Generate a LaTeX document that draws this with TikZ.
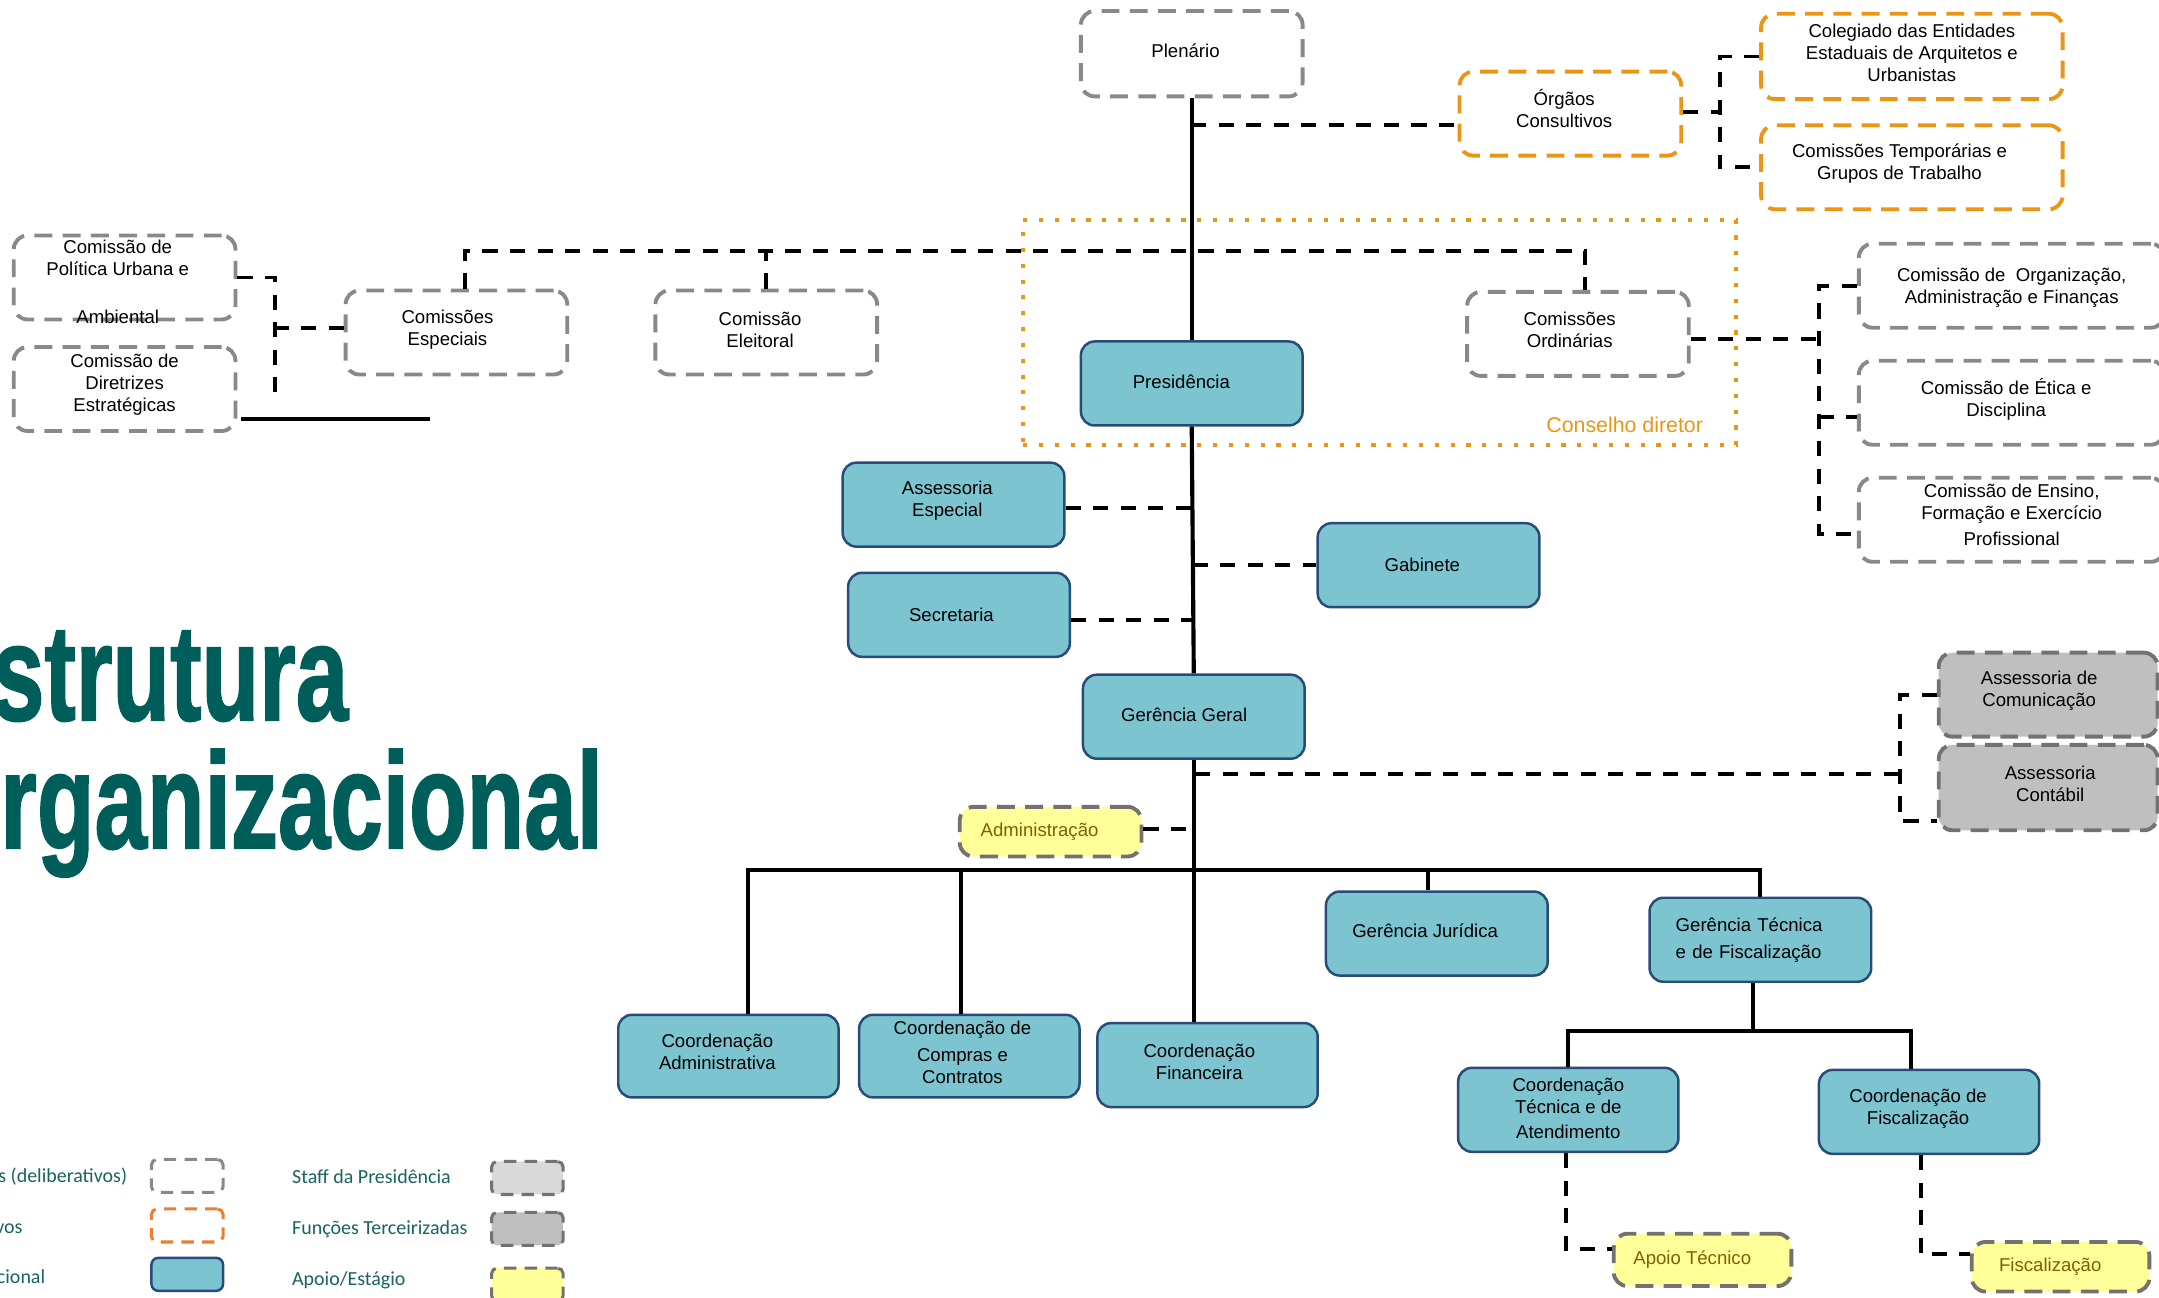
\documentclass[tikz,border=0pt]{standalone}
\usepackage{fontspec}
\setmainfont{Liberation Sans}
\newfontfamily\legfont{Carlito}
\newfontfamily\titlefont{Liberation Sans}[FakeBold=1.5]
\usetikzlibrary{calc}
\definecolor{bluefill}{RGB}{124,196,208}
\definecolor{blueline}{RGB}{40,76,122}
\definecolor{grayline}{RGB}{137,137,137}
\definecolor{orangeline}{RGB}{234,150,20}
\definecolor{legorange}{RGB}{237,125,49}
\definecolor{darkgrayline}{RGB}{118,113,113}
\definecolor{staffgray}{RGB}{217,217,217}
\definecolor{tercgray}{RGB}{191,191,191}
\definecolor{apoioyellow}{RGB}{255,255,153}
\definecolor{apoiotext}{RGB}{127,96,0}
\definecolor{titlecol}{RGB}{0,94,90}
\definecolor{legtext}{RGB}{24,100,96}
\tikzset{
  box/.style={rounded corners=10pt, inner sep=0pt},
  lab/.style={align=center, inner sep=0pt, text=black,
    font=\fontsize{13.5}{16}\selectfont},
  ylab/.style={lab, text=apoiotext},
  sz/.style 2 args={minimum width=#1pt, minimum height=#2pt},
  dsh/.style={line width=2.8pt, dash pattern=on 13pt off 7.5pt},
  delib/.style={box, dsh, draw=grayline, fill=white},
  consult/.style={box, dsh, draw=orangeline, fill=white},
  oper/.style={box, draw=blueline, line width=1.8pt, fill=bluefill},
  terc/.style={box, dsh, draw=darkgrayline, fill=tercgray},
  apoio/.style={box, dsh, draw=darkgrayline, fill=apoioyellow},
  trunk/.style={line width=3pt, draw=black},
  conn/.style={line width=2.8pt, draw=black, dash pattern=on 11pt off 9pt},
  legtxt/.style={inner sep=0pt, text=legtext, font=\legfont\fontsize{14.5}{17}\selectfont},
  legbox/.style={rounded corners=4pt, minimum width=52pt, minimum height=24pt, inner sep=0pt,
    line width=2.2pt, dash pattern=on 9pt off 6pt},
}
\begin{document}
\begin{tikzpicture}[x=1pt,y=-1pt]
\useasboundingbox (0,0) rectangle (1568,942);
\fill[white] (0,0) rectangle (1568,942);

% Conselho diretor frame
\node[draw=orangeline, line width=3pt, dash pattern=on 3pt off 8.5pt,
  minimum width=518pt, minimum height=163pt, inner sep=0pt] (cons) at (1002,241.5) {};
\node[anchor=base east, inner sep=0pt, text=orangeline,
  font=\fontsize{15.5}{18}\selectfont] (consl) at (1237,314) {Conselho diretor};

% deliberative / consultive boxes
\node[delib, sz={161}{62}, label={[lab, xshift=-4.5pt, yshift=2pt]center:Plenário}] (pl) at (865.5,39) {};
\node[consult, sz={161}{61}, label={[lab, xshift=-4.5pt, yshift=4pt]center:{Órgãos\\Consultivos}}] (orgc) at (1140.5,82.5) {};
\node[consult, sz={219}{62}, label={[lab, yshift=2.7pt]center:{Colegiado das Entidades\\Estaduais de Arquitetos e\\Urbanistas}}] (coleg) at (1388.5,41) {};
\node[consult, sz={219}{61}, label={[lab, xshift=-9pt, yshift=2.5pt]center:{Comissões Temporárias e\\Grupos de Trabalho}}] (ctemp) at (1388.5,121.5) {};
\node[delib, sz={161}{61}, label={[lab, xshift=-6.5pt, yshift=2pt]center:{Comissões\\Especiais}}] (cesp) at (331.5,241.5) {};
\node[delib, sz={161}{61}, label={[lab, xshift=-4.5pt, yshift=2pt]center:{Comissão\\Eleitoral}}] (celei) at (556.5,241.5) {};
\node[delib, sz={161}{61}, label={[lab, xshift=-6pt, yshift=3pt]center:{Comissões\\Ordinárias}}] (cord) at (1146,242.5) {};
\node[delib, sz={161}{61}, label={[lab, xshift=-5pt, yshift=-3pt]center:{Comissão de\\Política Urbana e\\[19pt]Ambiental}}] (cpu) at (90.5,201.5) {};
\node[delib, sz={161}{61}, label={[lab, yshift=3pt]center:{Comissão de\\Diretrizes\\Estratégicas}}] (cde) at (90.5,282.5) {};
\node[delib, sz={222}{61}, label={[lab, yshift=-1.5pt]center:{Comissão de\ \ Organização,\\Administração e Finanças}}] (cofa) at (1461,207.5) {};
\node[delib, sz={222}{61}, label={[lab, xshift=-4pt, yshift=2.5pt]center:{Comissão de Ética e\\Disciplina}}] (ced) at (1461,292.5) {};
\node[delib, sz={222}{61}, label={[lab, yshift=3.5pt]center:{Comissão de Ensino,\\Formação e Exercício\\[2.5pt]Profissional}}] (cefe) at (1461,377.5) {};

% operational boxes
\node[oper, sz={161}{61}, label={[lab, xshift=-7.5pt, yshift=1pt]center:Presidência}] (pres) at (865.5,278.5) {};
\node[oper, sz={161}{61}, label={[lab, xshift=-4.5pt, yshift=3pt]center:{Assessoria\\Especial}}] (asesp) at (692.5,366.5) {};
\node[oper, sz={161}{61}, label={[lab, xshift=-4.5pt]center:Gabinete}] (gab) at (1037.5,410.5) {};
\node[oper, sz={161}{61}, label={[lab, xshift=-5.5pt]center:Secretaria}] (secr) at (696.5,446.5) {};
\node[oper, sz={161}{61}, label={[lab, xshift=-7pt, yshift=1pt]center:Gerência Geral}] (gg) at (867,520.5) {};
\node[terc, sz={159}{61}, label={[lab, xshift=-6.5pt, yshift=3pt]center:{Assessoria de\\Comunicação}}] (acom) at (1487.5,504.5) {};
\node[terc, sz={159}{62}, label={[lab, xshift=1.5pt, yshift=3pt]center:{Assessoria\\Contábil}}] (acont) at (1487.5,572) {};
\node[apoio, sz={132}{36}, label={[ylab, xshift=-8pt]center:Administração}] (adm) at (763,604) {};
\node[oper, sz={160}{60}, label={[lab, xshift=-8pt, yshift=3pt]center:{Coordenação\\Administrativa}}] (cadm) at (529,767) {};
\node[oper, sz={160}{60}, label={[lab, xshift=-5pt, yshift=3pt]center:{Coordenação de\\[3.5pt]Compras e\\Contratos}}] (ccomp) at (704,767) {};
\node[oper, sz={160}{61}, label={[lab, xshift=-6pt, yshift=2.5pt]center:{Coordenação\\Financeira}}] (cfin) at (877,773.5) {};
\node[oper, sz={161}{61}, label={[lab, xshift=-8.5pt, yshift=2pt]center:Gerência Jurídica}] (gjur) at (1043.5,678) {};
\node[oper, sz={161}{61}, label={[lab, align=left, text width=123pt]center:{Gerência Técnica\\[3.5pt]e de Fiscalização}}] (gtec) at (1278.5,682.5) {};
\node[oper, sz={160}{61}, label={[lab, yshift=1pt]center:{Coordenação\\Técnica e de\\[2.5pt]Atendimento}}] (ctec) at (1139,806) {};
\node[oper, sz={160}{61}, label={[lab, xshift=-8pt, yshift=2pt]center:{Coordenação de\\Fiscalização}}] (cfisc) at (1401,807.5) {};
\node[apoio, sz={129}{38}, label={[ylab, xshift=-7.5pt]center:Apoio Técnico}] (apt) at (1236.5,915) {};
\node[apoio, sz={129}{36}, label={[ylab, xshift=-7.5pt]center:Fiscalização}] (fisc) at (1496.5,920) {};

% junction coordinates
\coordinate (jOrg) at (865,91);
\coordinate (jOb) at (1249,81.5);
\coordinate (jE) at (338,182);
\coordinate (jO) at (1151,182);
\coordinate (jL) at (200,238);
\coordinate (jLb) at (200,285);
\coordinate (s1) at (175,304);
\coordinate (s2) at (312,304);
\coordinate (jR) at (1321,246);
\coordinate (jR1) at (1321,208);
\coordinate (jR2) at (1321,303);
\coordinate (jR3) at (1321,388);
\coordinate (jAe) at (866,369);
\coordinate (jGb) at (866,410.5);
\coordinate (jSc) at (866.5,450.5);
\coordinate (jG) at (868,562);
\coordinate (jC) at (1380,562);
\coordinate (jC1) at (1380,505);
\coordinate (jC2) at (1380,596);
\coordinate (jAd) at (868,602);
\coordinate (jAdm) at (543,632);
\coordinate (jComp) at (698,632);
\coordinate (jJur) at (1037,632);
\coordinate (jT) at (1273,749);
\coordinate (jT1) at (1138.5,749);
\coordinate (jT2) at (1388,749);
\coordinate (jAp) at (1137,907);
\coordinate (jFi) at (1395,911);

% solid connectors
\draw[trunk] (pl.south) -- (pres.north);
\draw[trunk] (pres.south) -- (gg.north);
\draw[trunk] (gg.south) -- (gg.south |- cfin.north);
\draw[trunk] (cadm.north -| jAdm) -- (jAdm) -- (gtec.north |- jAdm) -- (gtec.north);
\draw[trunk] (ccomp.north -| jComp) -- (jComp);
\draw[trunk] (gjur.north -| jJur) -- (jJur);
\draw[trunk] (gtec.south -| jT) -- (jT);
\draw[trunk] (ctec.north -| jT1) -- (jT1) -- (jT2) -- (cfisc.north -| jT2);
\draw[trunk] (s1) -- (s2);

% dashed connectors
\draw[conn] (jOrg) -- (orgc.west |- jOrg);
\draw[conn] (orgc.east |- jOb) -- (jOb);
\draw[conn] (coleg.west) -| (jOb) |- (ctemp.west);
\draw[conn] (cesp.north -| jE) -- (jE) -- (jO) -- (cord.north -| jO);
\draw[conn] (celei.north) -- (celei.north |- jE);
\draw[conn] (cesp.west |- jL) -- (jL);
\draw[conn] (cpu.east) -| (jLb);
\draw[conn] (cord.east |- jR) -- (jR);
\draw[conn] (cofa.west |- jR1) -- (jR1) -- (jR3) -- (cefe.west |- jR3);
\draw[conn] (jR2) -- (ced.west |- jR2);
\draw[conn] (asesp.east |- jAe) -- (jAe);
\draw[conn] (jGb) -- (gab.west);
\draw[conn] (secr.east |- jSc) -- (jSc);
\draw[conn] (jG) -- (jC);
\draw[conn] (acom.west |- jC1) -- (jC1) -- (jC2) -- (acont.west |- jC2);
\draw[conn] (adm.east |- jAd) -- (jAd);
\draw[conn] (ctec.south -| jAp) -- (jAp) -- (apt.west |- jAp);
\draw[conn] (cfisc.south -| jFi) -- (jFi) -- (fisc.west |- jFi);

% title
\node[anchor=base west, inner sep=0pt, text=titlecol] (t1) at (-6,523)
  {\scalebox{1.07}[1.55]{\titlefont\bfseries\fontsize{64}{64}\selectfont strutura}};
\node[anchor=base west, inner sep=0pt, text=titlecol] (t2) at (0,616)
  {\scalebox{1.07}[1.55]{\titlefont\bfseries\fontsize{64}{64}\selectfont rganizacional}};

% legend
\node[legbox, draw=grayline] (lg1) at (136,854) {};
\node[legbox, draw=legorange] (lg2) at (136,890) {};
\node[legbox, draw=blueline, fill=bluefill, solid, line width=1.8pt, rounded corners=5pt] (lg3) at (136,925.5) {};
\node[legbox, draw=darkgrayline, fill=staffgray] (lg4) at (383,855.5) {};
\node[legbox, draw=darkgrayline, fill=tercgray] (lg5) at (383,892.5) {};
\node[legbox, draw=darkgrayline, fill=apoioyellow] (lg6) at (383,933) {};
\node[legtxt, anchor=base east] (lt1) at (92.5,859) {s (deliberativos)};
\node[legtxt, anchor=base east] (lt2) at (16.5,895.5) {vos};
\node[legtxt, anchor=base east] (lt3) at (33,932) {cional};
\node[legtxt, anchor=base west] (lt4) at (212,859.5) {Staff da Presidência};
\node[legtxt, anchor=base west] (lt5) at (212,896.5) {Funções Terceirizadas};
\node[legtxt, anchor=base west] (lt6) at (212,933.5) {Apoio/Estágio};
\end{tikzpicture}
\end{document}
